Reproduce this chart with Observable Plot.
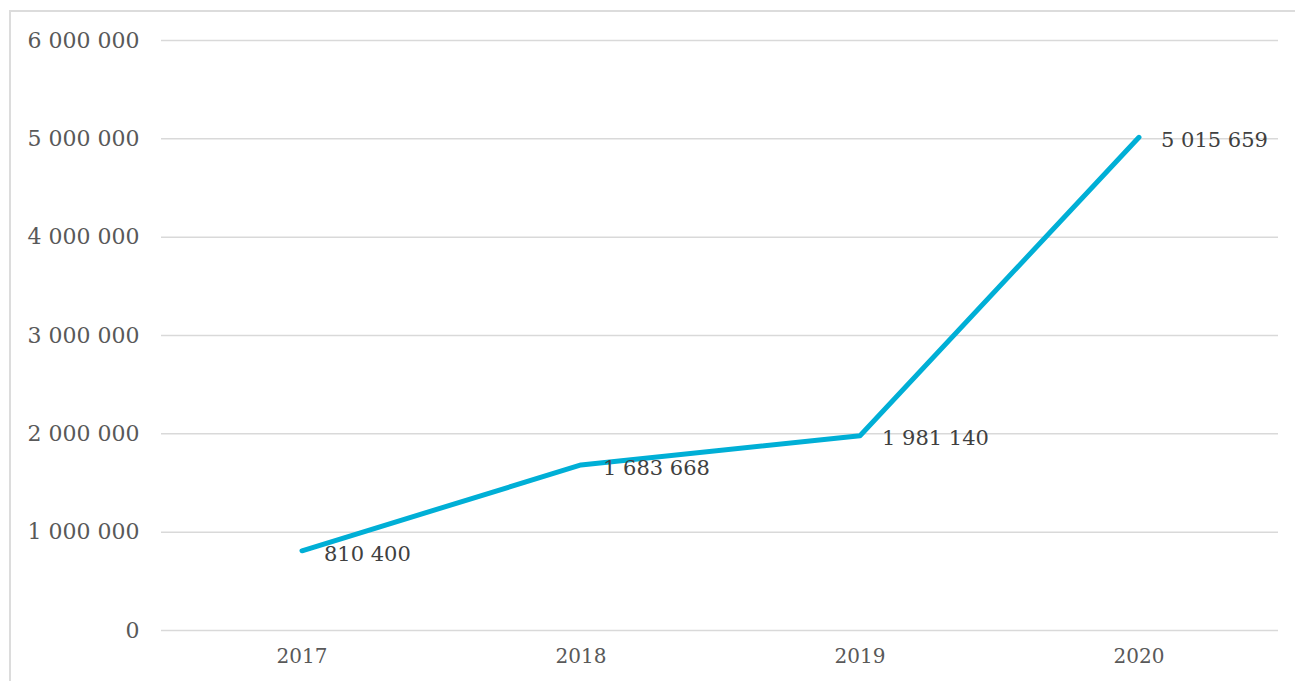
<!DOCTYPE html>
<html>
<head>
<meta charset="utf-8">
<script src="https://cdn.jsdelivr.net/npm/d3@7"></script>
<script src="https://cdn.jsdelivr.net/npm/@observablehq/plot@0.6"></script>
<style>
  html, body { margin: 0; padding: 0; background: #fff; overflow: hidden; }
  #frame { position: absolute; left: 9px; top: 10px; width: 1400px; height: 800px;
           border-left: 2px solid #dcdcdc; border-top: 2px solid #dcdcdc; box-sizing: border-box; }
  #chart { position: absolute; left: 0; top: 0; }
</style>
</head>
<body>
<div id="frame"></div>
<div id="chart"></div>
<script>
const years = ["2017", "2018", "2019", "2020"];
const values = [810400, 1683668, 1981140, 5015659];
const yTicks = [0, 1000000, 2000000, 3000000, 4000000, 5000000, 6000000];

const data = years.map((year, i) => ({year, value: values[i]}));
const fmt = v => d3.format(",")(v).replace(/,/g, " ");

const plot = Plot.plot({
  width: 1295,
  height: 681,
  marginLeft: 161,
  marginRight: 17,
  marginTop: 40,
  marginBottom: 51,
  style: {fontFamily: "'DejaVu Serif', serif", fontSize: "20px", background: "transparent"},
  x: {type: "band", domain: years, padding: 0, label: null, tickSize: 0, tickPadding: 18},
  y: {domain: [0, 6000000], ticks: yTicks, tickFormat: fmt, label: null, tickSize: 0, tickPadding: 22},
  marks: [
    Plot.gridY(yTicks, {stroke: "#d9d9d9", strokeOpacity: 1, strokeWidth: 1.5}),
    Plot.axisY({ticks: yTicks, tickFormat: fmt, tickSize: 0, tickPadding: 22, color: "#595959", fontSize: 22}),
    Plot.axisX({tickSize: 0, tickPadding: 18, color: "#595959", fontSize: 20}),
    Plot.line(data, {x: "year", y: "value", stroke: "#00afd6", strokeWidth: 5, strokeLinecap: "round", strokeLinejoin: "round"}),
    Plot.text(data, {x: "year", y: "value", text: d => fmt(d.value), textAnchor: "start", dx: 22, dy: 3, fill: "#404040", fontSize: 21})
  ]
});
document.getElementById("chart").appendChild(plot);
</script>
</body>
</html>
